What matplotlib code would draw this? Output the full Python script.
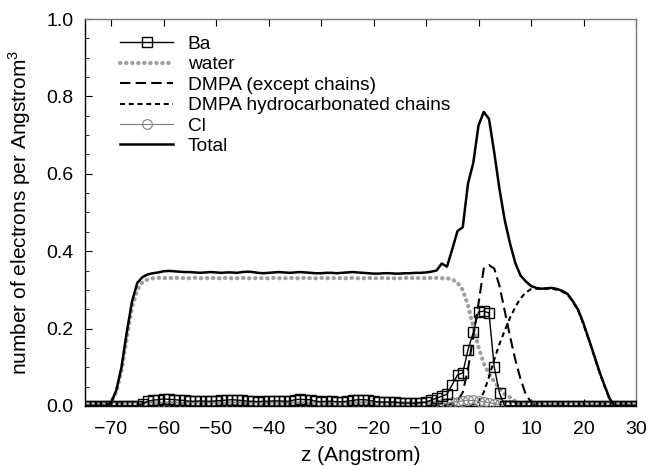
import matplotlib
matplotlib.use("Agg")
import matplotlib.pyplot as plt
import numpy as np
from matplotlib.ticker import MultipleLocator

plt.rcParams['font.family'] = ['Liberation Sans', 'DejaVu Sans']
plt.rcParams['mathtext.fontset'] = 'custom'
plt.rcParams['mathtext.rm'] = 'Liberation Sans'

# z grid (Angstrom), one sample per Angstrom from -75 to 30
z = np.arange(-75, 31)

# electron density profiles (electrons / Angstrom^3)
total = [
    0, 0, 0, 0, 0, 0.008, 0.040, 0.100, 0.190, 0.270,                       # -75..-66
    0.318, 0.333, 0.340, 0.343, 0.345, 0.348, 0.349, 0.348, 0.347, 0.346,   # -65..-56
    0.346, 0.345, 0.344, 0.345, 0.346, 0.345, 0.344, 0.345, 0.345, 0.344,   # -55..-46
    0.346, 0.347, 0.346, 0.344, 0.343, 0.344, 0.345, 0.346, 0.345, 0.344,   # -45..-36
    0.345, 0.346, 0.345, 0.344, 0.343, 0.343, 0.344, 0.344, 0.343, 0.344,   # -35..-26
    0.345, 0.346, 0.345, 0.344, 0.343, 0.342, 0.342, 0.343, 0.343, 0.342,   # -25..-16
    0.342, 0.343, 0.343, 0.344, 0.344, 0.345, 0.347, 0.350, 0.368, 0.360,   # -15..-6
    0.405, 0.452, 0.462, 0.575, 0.628, 0.725, 0.760, 0.742, 0.655, 0.560,   # -5..4
    0.480, 0.420, 0.370, 0.337, 0.322, 0.310, 0.305, 0.303, 0.304, 0.305,   # 5..14
    0.302, 0.297, 0.289, 0.270, 0.248, 0.213, 0.173, 0.132, 0.090, 0.053,   # 15..24
    0.018, 0, 0, 0, 0, 0,                                                   # 25..30
]

water = [
    0, 0, 0, 0, 0.002, 0.010, 0.035, 0.090, 0.175, 0.255,
    0.300, 0.320, 0.327, 0.330, 0.331, 0.331, 0.330, 0.331, 0.331, 0.330,
    0.330, 0.331, 0.330, 0.330, 0.331, 0.330, 0.330, 0.331, 0.330, 0.330,
    0.331, 0.330, 0.330, 0.331, 0.330, 0.330, 0.331, 0.330, 0.330, 0.331,
    0.330, 0.330, 0.331, 0.330, 0.330, 0.331, 0.330, 0.330, 0.331, 0.330,
    0.330, 0.331, 0.330, 0.330, 0.331, 0.330, 0.330, 0.331, 0.330, 0.330,
    0.330, 0.331, 0.331, 0.330, 0.331, 0.330, 0.331, 0.331, 0.330, 0.330,
    0.327, 0.318, 0.300, 0.260, 0.205, 0.152, 0.110, 0.082, 0.063, 0.045,
    0.030, 0.022, 0.012, 0.005, 0, 0, 0, 0, 0, 0,
    0, 0, 0, 0, 0, 0, 0, 0, 0, 0,
    0, 0, 0, 0, 0, 0,
]

dmpa_head = [
    0, 0, 0, 0, 0, 0, 0, 0, 0, 0,
    0, 0, 0, 0, 0, 0, 0, 0, 0, 0,
    0, 0, 0, 0, 0, 0, 0, 0, 0, 0,
    0, 0, 0, 0, 0, 0, 0, 0, 0, 0,
    0, 0, 0, 0, 0, 0, 0, 0, 0, 0,
    0, 0, 0, 0, 0, 0, 0, 0, 0, 0,
    0, 0, 0, 0, 0, 0, 0, 0, 0, 0.002,
    0.005, 0.012, 0.035, 0.095, 0.180, 0.265, 0.355, 0.364, 0.355, 0.310,
    0.245, 0.180, 0.120, 0.070, 0.030, 0.010, 0.002, 0, 0, 0,
    0, 0, 0, 0, 0, 0, 0, 0, 0, 0,
    0, 0, 0, 0, 0, 0,
]

dmpa_chains = [
    0, 0, 0, 0, 0, 0, 0, 0, 0, 0,
    0, 0, 0, 0, 0, 0, 0, 0, 0, 0,
    0, 0, 0, 0, 0, 0, 0, 0, 0, 0,
    0, 0, 0, 0, 0, 0, 0, 0, 0, 0,
    0, 0, 0, 0, 0, 0, 0, 0, 0, 0,
    0, 0, 0, 0, 0, 0, 0, 0, 0, 0,
    0, 0, 0, 0, 0, 0, 0, 0, 0, 0,
    0, 0, 0, 0, 0.003, 0.010, 0.035, 0.075, 0.120, 0.160,
    0.195, 0.228, 0.255, 0.278, 0.293, 0.302, 0.303, 0.302, 0.303, 0.303,
    0.300, 0.295, 0.287, 0.268, 0.246, 0.211, 0.171, 0.130, 0.088, 0.051,
    0.016, 0, 0, 0, 0, 0,
]

ba = [
    0, 0, 0, 0, 0, 0, 0, 0, 0, 0,
    0, 0.005, 0.012, 0.015, 0.016, 0.018, 0.017, 0.016, 0.015, 0.014,
    0.012, 0.012, 0.013, 0.012, 0.012, 0.013, 0.014, 0.015, 0.016, 0.015,
    0.014, 0.012, 0.012, 0.011, 0.012, 0.012, 0.013, 0.013, 0.012, 0.012,
    0.016, 0.017, 0.016, 0.016, 0.012, 0.011, 0.012, 0.012, 0.011, 0.011,
    0.012, 0.014, 0.016, 0.016, 0.015, 0.012, 0.010, 0.010, 0.010, 0.010,
    0.008, 0.007, 0.007, 0.007, 0.008, 0.010, 0.015, 0.020, 0.025, 0.030,
    0.055, 0.080, 0.085, 0.145, 0.190, 0.243, 0.245, 0.240, 0.100, 0.033,
    0, 0, 0, 0, 0, 0, 0, 0, 0, 0,
    0, 0, 0, 0, 0, 0, 0, 0, 0, 0,
    0, 0, 0, 0, 0, 0,
]

cl = [
    0, 0, 0, 0, 0, 0, 0, 0, 0, 0,
    0, 0, 0, 0, 0, 0, 0, 0, 0, 0,
    0, 0, 0, 0, 0, 0, 0, 0, 0, 0,
    0, 0, 0, 0, 0, 0, 0, 0, 0, 0,
    0, 0, 0, 0, 0, 0, 0, 0, 0, 0,
    0, 0, 0, 0, 0, 0, 0, 0, 0, 0,
    0, 0, 0, 0, 0, 0, 0, 0.003, 0.005, 0.007,
    0.009, 0.011, 0.013, 0.014, 0.014, 0.012, 0.010, 0.008, 0.006, 0.004,
    0.002, 0.001, 0, 0, 0, 0, 0, 0, 0, 0,
    0, 0, 0, 0, 0, 0, 0, 0, 0, 0,
    0, 0, 0, 0, 0, 0,
]

fig = plt.figure(figsize=(6.47, 4.66), dpi=100)
ax = fig.add_axes([0.131, 0.129, 0.852, 0.830])

ax.plot(z, ba, color='black', lw=1.0, marker='s', ms=6.5, mfc='none', mec='black',
        mew=1.0, label='Ba', zorder=5)
ax.plot(z, water, color='#a0a0a0', lw=3.0, linestyle=(0, (0.1, 1.35)),
        dash_capstyle='round', label='water', zorder=2)
ax.plot(z, dmpa_head, color='black', lw=1.5, dashes=(5, 2.5),
        label='DMPA (except chains)', zorder=3)
ax.plot(z, dmpa_chains, color='black', lw=1.5, dashes=(2.4, 1.8),
        label='DMPA hydrocarbonated chains', zorder=3)
ax.plot(z, cl, color='#808080', lw=0.8, marker='o', ms=7, mfc='none', mec='#808080',
        mew=0.8, label='Cl', zorder=4)
ax.plot(z, total, color='black', lw=1.8, label='Total', zorder=4)

ax.set_xlim(-75, 30)
ax.set_ylim(0, 1.0)
ax.xaxis.set_major_locator(MultipleLocator(10))
ax.yaxis.set_major_locator(MultipleLocator(0.2))
ax.yaxis.set_minor_locator(MultipleLocator(0.05))
ax.yaxis.set_major_formatter(matplotlib.ticker.FormatStrFormatter('%.1f'))
ax.tick_params(axis='x', which='both', direction='in', top=True, bottom=True,
               length=5, labelsize=14, pad=11)
ax.tick_params(axis='y', which='major', direction='in', left=True, right=False,
               length=5, labelsize=14, pad=8)
ax.tick_params(axis='y', which='minor', direction='in', left=True, right=False, length=3)
for s in ax.spines.values():
    s.set_linewidth(1.0)
ax.spines['right'].set_color('#777777')
ax.spines['top'].set_color('#777777')

ax.set_xlabel('z (Angstrom)', fontsize=15, labelpad=6)
ax.set_ylabel(r'number of electrons per Angstrom$^{3}$', fontsize=15, labelpad=10)

ax.legend(loc='upper left', bbox_to_anchor=(0.0635, 0.958), frameon=False,
          fontsize=13.8, handlelength=2.8, handletextpad=0.75, labelspacing=0.16,
          borderpad=0, borderaxespad=0)

fig.savefig('out.png', dpi=100)
